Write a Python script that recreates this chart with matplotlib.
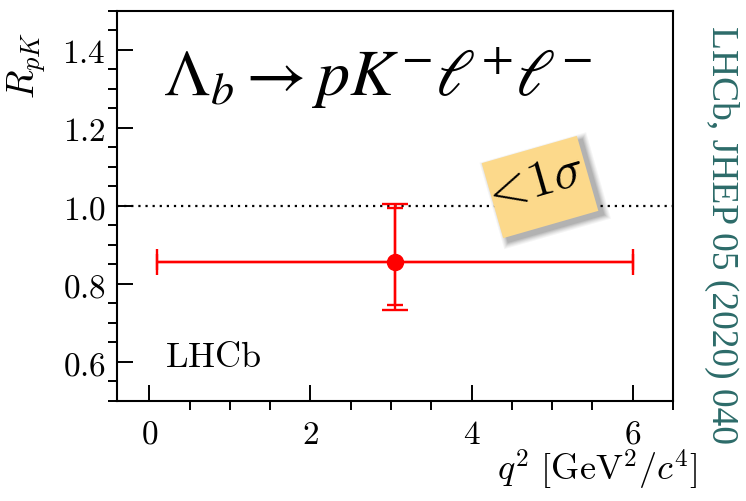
import matplotlib
matplotlib.use("Agg")
import matplotlib.pyplot as plt
from matplotlib import transforms
from matplotlib.patches import Rectangle
import numpy as np

plt.rcParams['mathtext.fontset'] = 'cm'
plt.rcParams['font.family'] = ['DejaVu Serif']

# ---- data ----
q2_center = [3.05]
q2_low = [0.1]
q2_high = [6.0]
rpk = [0.855]
stat_up = [0.14]
stat_down = [0.11]
tot_up = [0.149]
tot_down = [0.121]
sm_value = 1.0

xticks = [0, 2, 4, 6]
xtick_labels = ['$0$', '$2$', '$4$', '$6$']
yticks = [0.6, 0.8, 1.0, 1.2, 1.4]
ytick_labels = ['$0.6$', '$0.8$', '$1.0$', '$1.2$', '$1.4$']

W, H = 746, 502
fig = plt.figure(figsize=(W / 100, H / 100), dpi=100)
ax = fig.add_axes([117 / W, 1 - 402 / H, (673 - 117) / W, (402 - 11.5) / H])
ax.set_xlim(-0.4, 6.5)
ax.set_ylim(0.5, 1.5)

red = '#ff0000'
xerr = [[c - l for c, l in zip(q2_center, q2_low)], [h - c for c, h in zip(q2_center, q2_high)]]
ax.axhline(sm_value, color='black', ls=(0, (1, 2.2)), lw=1.6, zorder=1)
ax.errorbar(q2_center, rpk, yerr=[tot_down, tot_up], fmt='none', ecolor=red,
            elinewidth=1.7, capsize=9.3, capthick=1.7, zorder=3)
ax.errorbar(q2_center, rpk, xerr=xerr, yerr=[stat_down, stat_up], fmt='o', color=red,
            ms=11.5, elinewidth=1.7, capsize=6.0, capthick=1.7, zorder=4)
# wider caps on x-error bar
ax.errorbar(q2_center, rpk, xerr=xerr, fmt='none', ecolor=red, elinewidth=1.7,
            capsize=9.3, capthick=1.7, zorder=3)

ax.set_xticks(xticks, labels=xtick_labels)
ax.set_yticks(yticks, labels=ytick_labels)
ax.set_xticks(np.arange(0.5, 6.51, 0.5), minor=True)
ax.set_yticks(np.arange(0.5, 1.51, 0.05), minor=True)
ax.tick_params(which='major', direction='in', length=11.5, width=1.4, labelsize=24)
ax.tick_params(which='minor', direction='out', length=6.5, width=1.4)
ax.tick_params(axis='y', which='major', pad=8)
ax.tick_params(axis='x', which='major', pad=12)
for s in ax.spines.values():
    s.set_linewidth(1.5)

ax.set_ylabel(r'$R_{pK}$', fontsize=27)
ax.yaxis.set_label_coords(-0.124, 0.863)
fig.text(698 / W, 1 - 470 / H, r'$q^2\ [\mathrm{GeV}^2/c^4]$', fontsize=26,
         ha='right', va='center')

fig.text(163 / W, 1 - 96 / H, r'$\Lambda_b \rightarrow pK^{-}\ell^{+}\ell^{-}$',
         fontsize=47.5, ha='left', va='baseline', math_fontfamily='stix')
fig.text(165 / W, 1 - 367 / H, r'$\mathrm{LHCb}$', fontsize=26, ha='left', va='baseline')

fig.text(722 / W, 1 - 235 / H, 'LHCb, JHEP 05 (2020) 040', rotation=-90,
         fontsize=27, color='#2c6b69', ha='center', va='center',
         family=['Liberation Serif'])

# sticky note
pix = transforms.Affine2D().scale(1 / W, 1 / H) + fig.transFigure
cx, cy = 540, H - 188
nw, nh = 99, 78
ang = 16
rot = transforms.Affine2D().rotate_deg_around(cx, cy, ang) + pix
for i, a in enumerate([0.04, 0.04, 0.05, 0.06, 0.07, 0.08]):
    g = 6 - i
    sh = Rectangle((cx - nw / 2 + 4 - g, cy - nh / 2 - 5 - g), nw + 2 * g, nh + 2 * g,
                   transform=rot, facecolor='black', alpha=a, edgecolor='none', zorder=5)
    fig.add_artist(sh)
note = Rectangle((cx - nw / 2, cy - nh / 2), nw, nh, transform=rot,
                 facecolor='#fcd98b', edgecolor='none', zorder=6)
fig.add_artist(note)
fig.text((cx - 8) / W, (cy + 4) / H, r'$<\!1\sigma$', fontsize=37, rotation=ang,
         ha='center', va='center', rotation_mode='anchor', zorder=7)

fig.savefig('out.png', dpi=100)
